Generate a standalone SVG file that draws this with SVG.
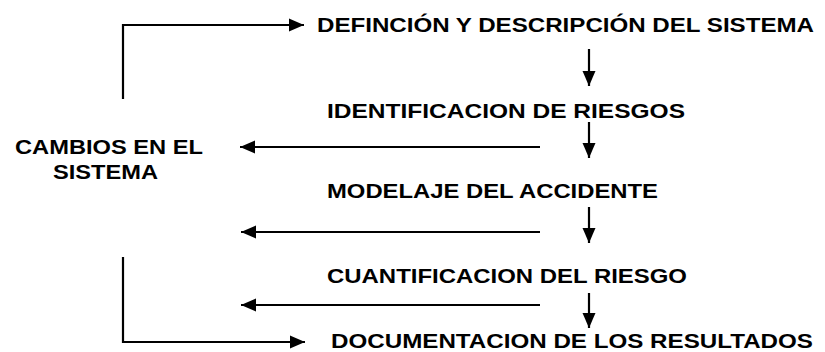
<svg xmlns="http://www.w3.org/2000/svg" width="825" height="352" viewBox="0 0 825 352">
<style>
text{font-family:"Liberation Sans",Arial,sans-serif;font-weight:bold;font-size:21px;fill:#000}
.c{fill:none;stroke:#000;stroke-width:2.2}
</style>
<defs>
<marker id="ah" markerUnits="userSpaceOnUse" markerWidth="16" markerHeight="14" refX="15" refY="7" orient="auto">
<path d="M0,0.5 L15,7 L0,13.5 z" fill="#000"/>
</marker>
</defs>
<rect width="825" height="352" fill="#fff"/>
<g id="n1"><text x="317" y="32" textLength="497" lengthAdjust="spacingAndGlyphs">DEFINCIÓN Y DESCRIPCIÓN DEL SISTEMA</text></g>
<g id="n2"><text x="327" y="117.5" textLength="358" lengthAdjust="spacingAndGlyphs">IDENTIFICACION DE RIESGOS</text></g>
<g id="n3"><text x="327" y="197.5" textLength="331" lengthAdjust="spacingAndGlyphs">MODELAJE DEL ACCIDENTE</text></g>
<g id="n4"><text x="327" y="282.5" textLength="360" lengthAdjust="spacingAndGlyphs">CUANTIFICACION DEL RIESGO</text></g>
<g id="n5"><text x="331" y="348" textLength="482" lengthAdjust="spacingAndGlyphs">DOCUMENTACION DE LOS RESULTADOS</text></g>
<g id="n6">
<text x="15" y="154" textLength="188" lengthAdjust="spacingAndGlyphs">CAMBIOS EN EL</text>
<text x="53" y="179" textLength="105" lengthAdjust="spacingAndGlyphs">SISTEMA</text>
</g>
<g id="connectors">
<polyline class="c" points="123,99 123,25 304,25" marker-end="url(#ah)"/>
<polyline class="c" points="123,257 123,342 305,342" marker-end="url(#ah)"/>
<line class="c" x1="540" y1="147" x2="240" y2="147" marker-end="url(#ah)"/>
<line class="c" x1="540" y1="232" x2="241" y2="232" marker-end="url(#ah)"/>
<line class="c" x1="540" y1="305" x2="241" y2="305" marker-end="url(#ah)"/>
<line class="c" x1="589" y1="49" x2="589" y2="86" marker-end="url(#ah)"/>
<line class="c" x1="589" y1="122" x2="589" y2="158" marker-end="url(#ah)"/>
<line class="c" x1="589" y1="207" x2="589" y2="243" marker-end="url(#ah)"/>
<line class="c" x1="589" y1="293" x2="589" y2="328" marker-end="url(#ah)"/>
</g>
</svg>
